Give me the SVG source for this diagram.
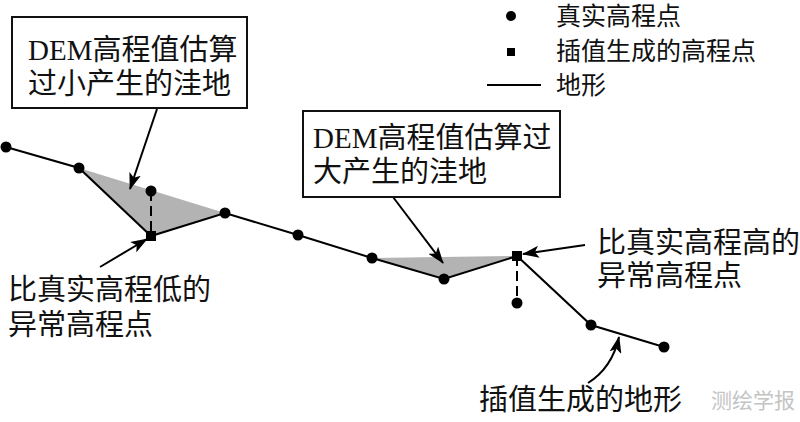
<svg xmlns="http://www.w3.org/2000/svg" width="800" height="422" viewBox="0 0 800 422">
<style>
.t{font-family:"Liberation Serif","Noto Sans CJK SC",serif;font-size:29px;fill:#111}
.lg{font-family:"Liberation Serif","Noto Sans CJK SC",serif;font-size:25px;fill:#111}
.wm{font-family:"Noto Sans CJK SC",sans-serif;font-size:21px;fill:#c4c4c4}
.line{stroke:#000;stroke-width:2;fill:none}
.box{fill:#fff;stroke:#111;stroke-width:2}
.arr{stroke:#000;stroke-width:2;fill:none;marker-end:url(#ah)}
.dash{stroke:#000;stroke-width:2;stroke-dasharray:10,5;fill:none}
.pit{fill:#b3b3b3;stroke:none}
.pt{fill:#000}
</style>
<defs>
<marker id="ah" markerUnits="userSpaceOnUse" markerWidth="17" markerHeight="12" refX="16" refY="6" orient="auto">
<path d="M0,0 L17,6 L0,12 L4,6 z" fill="#000"/>
</marker>
</defs>
<rect width="800" height="422" fill="#fff"/>

<g id="pits">
<polygon class="pit" points="79,168 151,236 225,213"/>
<polygon class="pit" points="372,258 444,279 517,256"/>
</g>

<g id="connectors">
<polyline class="line" points="6,147 79,168 151,236 225,213 298,235 372,258 444,279 517,256 591,325 664,347"/>
<line class="dash" x1="151" y1="191" x2="151" y2="236"/>
<line class="dash" x1="517" y1="256" x2="517" y2="303"/>
<line class="arr" x1="157" y1="109" x2="130" y2="189"/>
<line class="arr" x1="100" y1="267" x2="147" y2="239"/>
<line class="arr" x1="393" y1="197" x2="443" y2="263"/>
<line class="arr" x1="585" y1="245" x2="523" y2="254"/>
<path class="arr" d="M588,383 Q612,368 619,337"/>
</g>

<g id="real-points">
<circle class="pt" cx="6" cy="147" r="5.5"/>
<circle class="pt" cx="79" cy="168" r="5.5"/>
<circle class="pt" cx="151" cy="191" r="5.5"/>
<circle class="pt" cx="225" cy="213" r="5.5"/>
<circle class="pt" cx="298" cy="235" r="5.5"/>
<circle class="pt" cx="372" cy="258" r="5.5"/>
<circle class="pt" cx="444" cy="279" r="5.5"/>
<circle class="pt" cx="517" cy="303" r="5.5"/>
<circle class="pt" cx="591" cy="325" r="5.5"/>
<circle class="pt" cx="664" cy="347" r="5.5"/>
</g>

<g id="interp-points">
<rect class="pt" x="146" y="231" width="10" height="10"/>
<rect class="pt" x="512" y="251" width="10" height="10"/>
</g>

<g id="box-small">
<rect class="box" x="12" y="17" width="235" height="91"/>
<text class="t" x="28" y="60">DEM高程值估算</text>
<text class="t" x="28" y="94">过小产生的洼地</text>
</g>

<g id="box-large">
<rect class="box" x="303" y="111" width="257" height="86"/>
<text class="t" x="313" y="148">DEM高程值估算过</text>
<text class="t" x="313" y="182">大产生的洼地</text>
</g>

<g id="label-low">
<text class="t" x="8" y="300">比真实高程低的</text>
<text class="t" x="8" y="335">异常高程点</text>
</g>

<g id="label-high">
<text class="t" x="597" y="253">比真实高程高的</text>
<text class="t" x="597" y="286">异常高程点</text>
</g>

<g id="label-terrain">
<text class="t" x="479" y="410">插值生成的地形</text>
</g>

<g id="legend">
<circle class="pt" cx="511" cy="16" r="5"/>
<text class="lg" x="556" y="25">真实高程点</text>
<rect class="pt" x="507" y="48" width="8" height="8"/>
<text class="lg" x="556" y="60">插值生成的高程点</text>
<line class="line" x1="487" y1="85" x2="541" y2="85"/>
<text class="lg" x="556" y="94">地形</text>
</g>

<text class="wm" x="711" y="408">测绘学报</text>
</svg>
